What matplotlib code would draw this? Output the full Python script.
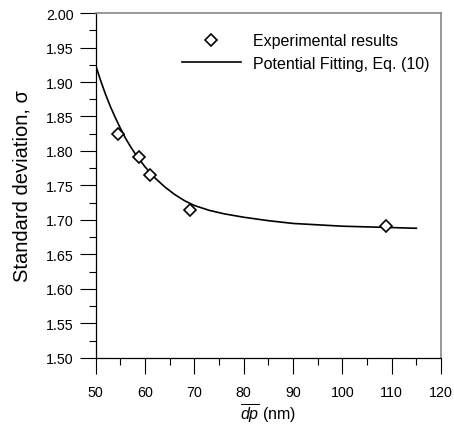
import matplotlib
matplotlib.use('Agg')
import matplotlib.pyplot as plt

plt.rcParams['font.family'] = ['Liberation Sans', 'DejaVu Sans']
plt.rcParams['mathtext.fontset'] = 'custom'
plt.rcParams['mathtext.rm'] = 'Liberation Sans'
plt.rcParams['mathtext.it'] = 'Liberation Sans:italic'

# Experimental results
dp_exp = [54.6, 58.8, 61.0, 69.1, 108.8]
sigma_exp = [1.824, 1.792, 1.765, 1.714, 1.691]

# Potential fitting curve, Eq. (10)
dp_fit = [50, 51, 52, 53, 54, 55, 56, 57, 58, 60, 62, 64, 66, 68, 70,
          73, 76, 80, 85, 90, 95, 100, 105, 110, 115]
sigma_fit = [1.924, 1.902, 1.882, 1.864, 1.848, 1.833, 1.819, 1.807, 1.796,
             1.777, 1.761, 1.748, 1.737, 1.728, 1.721, 1.714, 1.709, 1.704,
             1.699, 1.695, 1.693, 1.691, 1.690, 1.689, 1.688]

x_ticks = [50, 60, 70, 80, 90, 100, 110, 120]
y_ticks = [1.50, 1.55, 1.60, 1.65, 1.70, 1.75, 1.80, 1.85, 1.90, 1.95, 2.00]

fig = plt.figure(figsize=(4.54, 4.27), dpi=100)
ax = fig.add_axes([0.2108, 0.1593, 0.7606, 0.8079])

ax.plot(dp_exp, sigma_exp, linestyle='none', marker='D', ms=6, mfc='white',
        mec='black', mew=1.2, label='Experimental results', zorder=3)
ax.plot(dp_fit, sigma_fit, color='black', lw=1.2,
        label='Potential Fitting, Eq. (10)', zorder=2)

ax.set_xlim(50, 120)
ax.set_ylim(1.50, 2.00)
ax.set_xticks(x_ticks)
ax.set_yticks(y_ticks)
ax.set_yticklabels([f'{v:.2f}' for v in y_ticks])
ax.set_xticks([55, 65, 75, 85, 95, 105, 115], minor=True)
ax.set_yticks([1.525, 1.575, 1.625, 1.675, 1.725, 1.775, 1.825, 1.875,
               1.925, 1.975], minor=True)
ax.tick_params(which='major', direction='out', length=11.5, width=0.8,
               labelsize=10.3)
ax.tick_params(axis='y', which='major', pad=4.5)
ax.tick_params(axis='x', which='major', pad=8)
ax.tick_params(which='minor', direction='out', length=5, width=0.8)

for s in ['left', 'bottom']:
    ax.spines[s].set_color('black')
    ax.spines[s].set_linewidth(0.9)
for s in ['top', 'right']:
    ax.spines[s].set_color('#888888')
    ax.spines[s].set_linewidth(1.2)

ax.set_ylabel('Standard deviation, σ', fontsize=14.5, labelpad=10)
ax.set_xlabel(r'$\overline{dp}$ (nm)', fontsize=11.5, labelpad=2)

ax.legend(loc='upper left', bbox_to_anchor=(0.249, 0.941), frameon=False,
          fontsize=11.5, handlelength=3.7, handletextpad=0.75, labelspacing=0.45,
          borderpad=0, borderaxespad=0)

plt.savefig('out.png', dpi=100)
